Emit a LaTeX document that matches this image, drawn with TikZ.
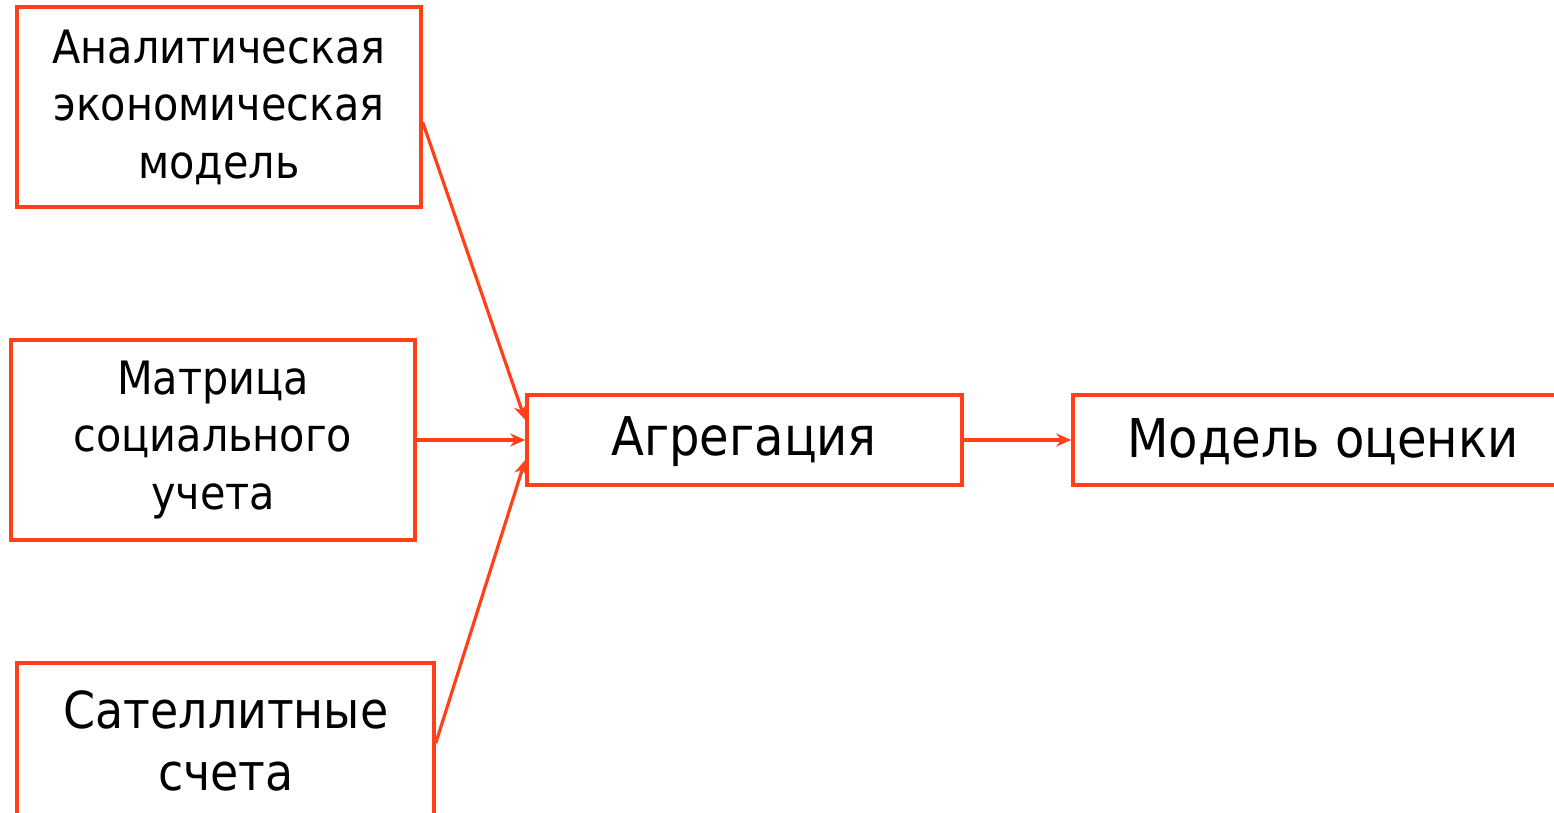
\documentclass[tikz,border=0pt]{standalone}
\usepackage{fontspec}
\setmainfont{DejaVu Sans Condensed}
\usetikzlibrary{arrows.meta,calc}
\definecolor{edgered}{RGB}{255,64,25}
\begin{document}
\begin{tikzpicture}[x=0.5pt,y=-0.5pt,
  box/.style={draw=edgered,line width=1.75pt,inner sep=0pt},
  lbl/.style={align=center,font=\fontsize{23}{28.75}\selectfont,inner sep=0pt},
  big/.style={font=\fontsize{26.7}{31}\selectfont,inner sep=0pt},
  conn/.style={draw=edgered,line width=1.6pt,-{Stealth[length=7.5pt,width=6.5pt]}}]
\useasboundingbox (0,0) rectangle (1554,813);
% boxes
\node[box,minimum width=202pt,minimum height=100pt] (ana) at (219,107) {};
\node[box,minimum width=202pt,minimum height=100pt] (mat) at (213,440) {};
\node[box,minimum width=208.5pt,minimum height=77pt] (sat) at (225.5,740) {};
\node[box,minimum width=217.5pt,minimum height=45pt] (agg) at (744.5,440) {};
\node[box,minimum width=250pt,minimum height=45pt] (mod) at (1323,440) {};
% texts
\node[lbl] (anat) at (219,107) {Аналитическая\\экономическая\\модель};
\node[lbl] (matt) at (213,440) {Матрица\\социального\\учета};
\node[lbl,font=\fontsize{25.5}{31}\selectfont] (satt) at (226,741) {Сателлитные\\счета};
\node[big] (aggt) at (744,442) {Агрегация};
\node[big] (modt) at (1323,442) {Модель оценки};
% connectors
\draw[conn] ($(ana.south east)!0.425!(ana.north east)$) -- ($(agg.west)+(0,-20)$);
\draw[conn] (mat.east) -- (agg.west);
\draw[conn] ($(sat.north east)!0.52!(sat.south east)$) -- ($(agg.west)+(0,20)$);
\draw[conn] (agg.east) -- (mod.west);
\end{tikzpicture}
\end{document}
